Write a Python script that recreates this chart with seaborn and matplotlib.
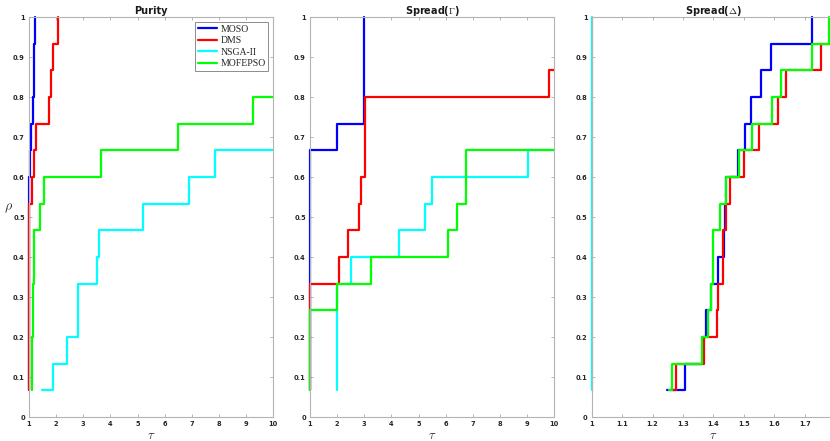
import pandas as pd
import seaborn as sns
import matplotlib.pyplot as plt
from matplotlib.lines import Line2D

solvers = ['MOSO', 'DMS', 'NSGA-II', 'MOFEPSO']
colors = {'MOSO': '#0000ff', 'DMS': '#ff0000', 'NSGA-II': '#00ffff', 'MOFEPSO': '#00ff00'}
n_prob = 15

# performance ratios (sorted)
purity_moso = [1, 1, 1, 1, 1, 1, 1, 1, 1, 1.04, 1.07, 1.15, 1.17, 1.20, 1.23]
purity_dms = [1, 1, 1, 1, 1, 1, 1, 1, 1.10, 1.20, 1.25, 1.75, 1.80, 1.90, 2.08]
purity_nsga = [1.49, 1.90, 2.39, 2.79, 2.82, 3.49, 3.57, 5.19, 6.90, 7.85]
purity_mofepso = [1.10, 1.11, 1.12, 1.14, 1.16, 1.18, 1.20, 1.41, 1.57, 3.65, 6.50, 9.24]

gamma_moso = [1, 1, 1, 1, 1, 1, 1, 1, 1, 1, 2.01, 2.99, 3.0, 3.0, 3.0]
gamma_dms = [1, 1, 1, 1, 1, 2.08, 2.41, 2.80, 2.87, 3.03, 3.03, 3.03, 9.79]
gamma_nsga = [2.0, 2.0, 2.0, 2.0, 2.0, 2.50, 4.29, 5.22, 5.48, 9.04]
gamma_mofepso = [1, 1, 1, 1, 2.01, 3.25, 6.10, 6.40, 6.73, 6.75]

delta_moso = [1.249, 1.307, 1.365, 1.375, 1.391, 1.416, 1.436, 1.439, 1.441,
              1.482, 1.504, 1.522, 1.556, 1.589, 1.725]
delta_dms = [1.265, 1.277, 1.369, 1.411, 1.416, 1.430, 1.433, 1.440, 1.455,
             1.502, 1.550, 1.611, 1.637, 1.753]
delta_nsga = [1, 1, 1, 1, 1, 1, 1, 1, 1, 1, 1, 1, 1, 1, 1]
delta_mofepso = [1.255, 1.263, 1.361, 1.383, 1.391, 1.397, 1.397, 1.422, 1.440,
                 1.484, 1.528, 1.594, 1.621, 1.723, 1.778]

panels = [
    ('Purity', [purity_moso, purity_dms, purity_nsga, purity_mofepso], 10,
     [1, 2, 3, 4, 5, 6, 7, 8, 9, 10]),
    (r'Spread($\Gamma$)', [gamma_moso, gamma_dms, gamma_nsga, gamma_mofepso], 10,
     [1, 2, 3, 4, 5, 6, 7, 8, 9, 10]),
    (r'Spread($\Delta$)', [delta_moso, delta_dms, delta_nsga, delta_mofepso], 1.8,
     [1, 1.1, 1.2, 1.3, 1.4, 1.5, 1.6, 1.7, 1.8]),
]
yticks = [0, 0.1, 0.2, 0.3, 0.4, 0.5, 0.6, 0.7, 0.8, 0.9, 1]


def profile(name, ratios, xmax):
    rho = [(i + 1) / n_prob for i in range(len(ratios))]
    x = list(ratios)
    if rho[-1] < 1:
        x.append(xmax)
        rho.append(rho[-1])
    return pd.DataFrame({'tau': x, 'rho': rho, 'solver': name})


sns.set_theme(style='white')
plt.rcParams['mathtext.fontset'] = 'cm'

fig = plt.figure(figsize=(8.3, 4.41), dpi=100)
lefts = [29, 310, 591.7]
widths = [244.3, 244.3, 243.5]
gray = '#b4b4b4'

for k, (title, series, xmax, xt) in enumerate(panels):
    ax = fig.add_axes([lefts[k] / 830, 24 / 441, widths[k] / 830, 400 / 441])
    df = pd.concat([profile(s, r, xmax) for s, r in zip(solvers, series)], ignore_index=True)
    sns.lineplot(data=df, x='tau', y='rho', hue='solver', hue_order=solvers,
                 palette=colors, estimator=None, sort=False, drawstyle='steps-post',
                 linewidth=1.6, clip_on=False, legend=False, ax=ax)
    ax.set_xlim(1, xmax)
    ax.set_ylim(0, 1)
    ax.set_xticks(xt)
    ax.set_xticklabels([f'{v:g}' for v in xt])
    ax.set_yticks(yticks)
    ax.set_yticklabels([f'{v:g}' for v in yticks])
    for lab in ax.get_xticklabels() + ax.get_yticklabels():
        lab.set_fontweight('bold')
    ax.tick_params(direction='in', length=2.5, width=0.7, color=gray,
                   labelcolor='#262626', labelsize=4.8, pad=3,
                   top=True, right=True, bottom=True, left=True)
    for sp in ax.spines.values():
        sp.set_color(gray)
        sp.set_linewidth(0.8)
    ax.set_title(title, fontsize=7, fontweight='bold', pad=2.5, color='#1a1a1a')
    ax.set_xlabel(r'$\tau$', fontsize=9, color='#333333')
    ax.xaxis.set_label_coords(0.5, -0.031)
    ax.set_ylabel('')
    if k == 0:
        ax.set_ylabel(r'$\rho$', fontsize=10, rotation=0, color='#333333')
        ax.yaxis.set_label_coords(-0.085, 0.505)
        handles = [Line2D([], [], color=colors[s], lw=1.6) for s in solvers]
        leg = ax.legend(handles, solvers, loc='upper right',
                        prop={'family': 'Liberation Serif', 'size': 7},
                        fancybox=False, framealpha=1, edgecolor='#8c8c8c',
                        borderaxespad=0.5, handlelength=2.0, labelspacing=0.25,
                        borderpad=0.3, handletextpad=0.3)
        leg.get_frame().set_linewidth(0.7)

fig.savefig('out.png', dpi=100)
